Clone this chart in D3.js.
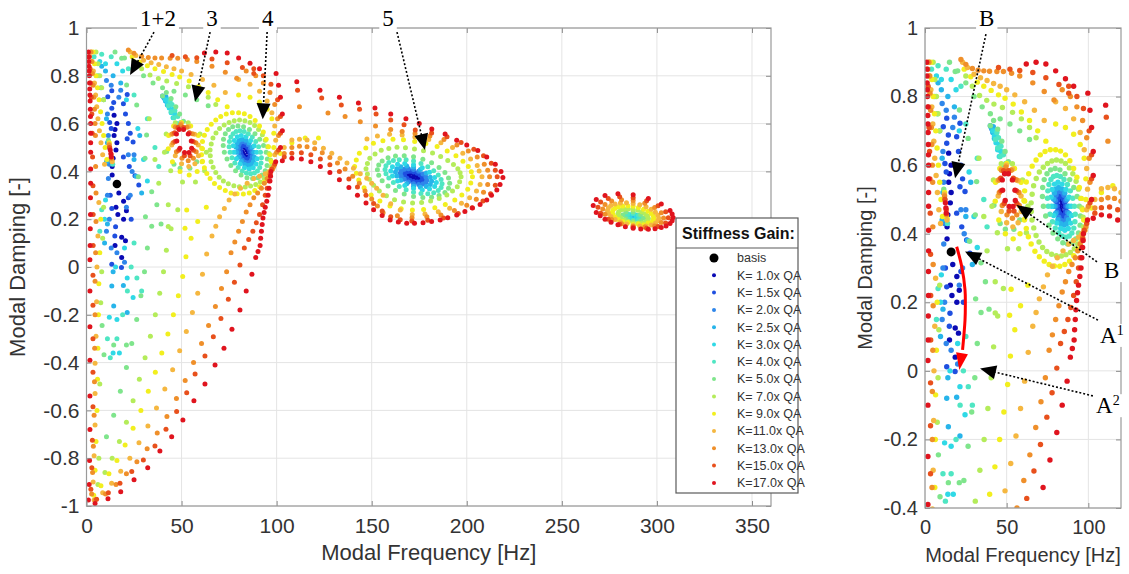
<!DOCTYPE html>
<html>
<head>
<meta charset="utf-8">
<script src="https://cdn.jsdelivr.net/npm/d3@7"></script>
<style>
    body { margin: 0; background: #fff; }
    svg { display: block; font-family: "Liberation Sans", Arial, sans-serif; }
</style>
</head>
<body>
<svg id="drawing_region"></svg>
<script>
// ---- series (legend order) ----
var seriesLabels = ['K= 1.0x QA', 'K= 1.5x QA', 'K= 2.0x QA', 'K= 2.5x QA', 'K= 3.0x QA', 'K= 4.0x QA',
    'K= 5.0x QA', 'K= 7.0x QA', 'K= 9.0x QA', 'K=11.0x QA', 'K=13.0x QA', 'K=15.0x QA', 'K=17.0x QA'];
var seriesColors = ['#0a0ab4', '#1f4fe0', '#2f86ea', '#27b4ea', '#2fd9e6', '#4fe6c3',
    '#7fe58c', '#b4ec5a', '#f2ef1e', '#f5b740', '#ef8f2a', '#e8501c', '#e0141e'];
var basisPoint = [16, 0.347];

// tick labels
var leftXTicks = [0, 50, 100, 150, 200, 250, 300, 350];
var leftYTicks = [-1, -0.8, -0.6, -0.4, -0.2, 0, 0.2, 0.4, 0.6, 0.8, 1];
var rightXTicks = [0, 50, 100];
var rightYTicks = [-0.4, -0.2, 0, 0.2, 0.4, 0.6, 0.8, 1];

// ---- points [frequency Hz, damping], one list per series, grouped by region ----
var lowBand = [
    [[14.5,0.635],[16,0.6],[15,0.575],[14.5,0.55],[16,0.52],[15.5,0.49],[14,0.455],[13.5,0.42],[13.5,0.385],[17,0.31],[19.5,0.275],[15.5,0.25],[16.5,0.22],[21,0.235],[19.5,0.2],[18.5,0.125],[20.5,0.11],[15,0.09],[18.5,0.04]],
    [[13.3,0.737],[11.2,0.712],[14.3,0.688],[13.3,0.664],[21.4,0.722],[19.4,0.683],[20.5,0.64],[22,0.6],[23,0.56],[12.2,0.605],[13,0.58],[21.4,0.537],[24.5,0.523],[12,0.5],[12.5,0.45],[19.4,0.46],[22.5,0.42],[25.5,0.382],[27.5,0.343],[12.5,0.3],[22,0.29],[13.3,0.245],[23.5,0.2],[15.3,0.168],[14.9,0.13],[13.3,0.012],[18.4,-0.002]],
    [[10.5,0.78],[13,0.76],[18,0.74],[17,0.71],[11,0.64],[11.5,0.55],[22,0.47],[25,0.47],[12,0.43],[24,0.4],[11.5,0.37],[11,0.3],[23,0.3],[21,0.25],[12,0.2],[10.5,0.15],[13,0.08],[16,0.06],[20,0.02]],
    [[8,0.84],[10,0.82],[14,0.8],[18,0.77],[9,0.7],[10.5,0.62],[28,0.55],[11,0.52],[25,0.45],[10.5,0.44],[26,0.38],[29,0.31],[11,0.18],[9.5,0.1],[14,-0.02],[19.4,-0.077],[13.3,-0.08],[14.3,-0.163],[21.4,-0.19]],
    [[7,0.86],[10,0.85],[16,0.85],[19,0.82],[7.5,0.75],[21,0.7],[27,0.58],[30,0.45],[32,0.36],[10,0.28],[9.5,0.2],[20,0.08],[15.3,0],[21.4,-0.046],[24.5,-0.128],[12,-0.21],[16,-0.22],[14,-0.36],[17.3,-0.36]],
    [[4,0.88],[8,0.89],[13,0.88],[22,0.83],[6,0.8],[25,0.72],[32,0.62],[36,0.5],[38,0.42],[8,0.24],[7,0.15],[26.5,-0.046],[29,-0.1],[11,-0.3],[13.8,0.43]],
    [[11.5,0.53],[31,0.21],[39.2,0.18],[34.3,0.315],[26.4,0.678],[31.6,0.552],[30.8,0.455],[27.3,0.378],[8.2,-0.245],[14.3,-0.326],[21,-0.326],[9.2,-0.367],[18.5,0.873],[21.1,0.761]],
    [[43,0.26],[43,0.169],[38,0.35],[36,0.45],[33,0.62]],
    [[12,0.52],[13.4,0.445],[52.7,0.238],[51.8,0.162]],
    [[11.8,0.515],[13.5,0.44]],
    [[12,0.51],[13.2,0.455]],
    [[12.2,0.5],[13,0.47]],
    [[12.5,0.49],[12.8,0.475],[13,0.46]]
];

var edgeColumn = [
    [], [], [], [], [], [], [],
    [[5,0.9],[6,0.85],[7,0.8],[8,0.75],[9,0.7],[9,0.25],[8.5,0.12],[8,-0.02],[7.5,-0.15],[7,-0.49],[6.5,-0.8]],
    [[3.5,0.9],[4.2,0.85],[5,0.8],[5.8,0.75],[6.6,0.7],[7.4,0.65],[8.2,0.6],[9,0.55],[9.8,0.5],[10.7,0.45],[7.5,0.2],[7,0.06],[6.5,-0.07],[6.3,-0.2],[6,-0.34],[5.8,-0.47],[5.5,-0.6],[5,-0.73],[4.5,-0.85]],
    [[2.5,0.9],[3,0.86],[3.6,0.82],[4.2,0.77],[4.8,0.72],[5.4,0.67],[6,0.62],[6.8,0.57],[7.6,0.52],[8.5,0.47],[9.5,0.43],[6.5,0.27],[6,0.13],[5.5,0],[5.3,-0.145],[5,-0.29],[4.5,-0.403],[4.5,-0.529],[4.5,-0.661],[4,-0.79],[3.5,-0.9]],
    [[2.3,0.9],[2.7,0.86],[3.1,0.81],[3.5,0.76],[3.9,0.71],[4.2,0.66],[4.5,0.6],[4.7,0.55],[4.8,0.42],[5,0.31],[5,0.19],[4.8,0.06],[4.5,-0.06],[4.5,-0.2],[4.3,-0.34],[4.2,-0.48],[4,-0.62],[3.6,-0.75],[3.2,-0.86],[2.7,-0.95]],
    [[1.6,0.88],[1.9,0.83],[2.2,0.77],[2.5,0.71],[2.8,0.64],[3,0.56],[3.2,0.46],[3.4,0.34],[3.5,0.22],[3.5,0.09],[3.4,-0.035],[3.4,-0.16],[3.4,-0.3],[3.4,-0.44],[3.4,-0.585],[3.1,-0.725],[2.8,-0.84],[2.3,-0.93]],
    [[1,0.9],[1.1,0.88],[1.2,0.86],[1.3,0.84],[1.4,0.82],[1.5,0.8],[1.6,0.77],[1.7,0.745],[1.8,0.72],[1.9,0.695],[2,0.66],[2.1,0.63],[2.2,0.6],[2.2,0.56],[2.2,0.52],[2.2,0.48],[2.2,0.41],[2.2,0.35],[2.1,0.29],[2.1,0.22],[2,0.16],[1.9,0.09],[1.8,0.03],[1.8,-0.1],[1.8,-0.25],[1.8,-0.39],[1.8,-0.54],[1.8,-0.68],[1.6,-0.81],[1.4,-0.91],[1,-0.975]]
];

var topArcs = [
    [], [], [], [], [], [],
    [[15,0.9],[20,0.875],[25,0.84],[30,0.8],[35,0.77],[40,0.75],[46,0.735],[52,0.72],[58,0.7],[64,0.675]],
    [[25,0.86],[29,0.83],[33.4,0.803],[37.8,0.789],[42.2,0.778],[47.4,0.768],[53.6,0.754],[59,0.735],[64,0.71],[68,0.68]],
    [[24,0.88],[28,0.858],[32,0.842],[36,0.83],[40.5,0.818],[45,0.805],[49,0.795],[54,0.778],[59,0.755],[64,0.73],[69,0.7],[74,0.67]],
    [[23,0.9],[26,0.885],[30,0.865],[34,0.855],[38,0.847],[42,0.838],[46,0.83],[50,0.82],[55,0.805],[61,0.785],[67,0.76],[73,0.73]],
    [[22,0.908],[25,0.894],[29,0.882],[32.5,0.877],[36,0.875],[39.5,0.874],[44,0.873],[48,0.873],[53,0.868],[58,0.86],[66,0.84],[73,0.815],[79,0.79]],
    [[45,0.885],[52,0.88],[58,0.876],[66,0.87],[74,0.855],[82,0.835],[88,0.81]],
    [[62,0.895],[68,0.9],[74,0.895],[80,0.875],[86,0.852],[91,0.83]]
];

var mode3 = [
    [], [],
    [[40,0.715],[41,0.705]],
    [[40.5,0.71],[41.5,0.695],[42.5,0.678],[41.8,0.712],[43.3,0.69]],
    [[41.5,0.7],[42.5,0.685],[43.5,0.665],[44.5,0.645],[45.5,0.625],[43,0.7],[44.2,0.68],[45.5,0.66],[46.5,0.64]],
    [[44,0.695],[43,0.675],[44.5,0.65],[46,0.625],[47.5,0.6],[49,0.58],[45,0.68],[46.5,0.655],[48,0.63],[49.5,0.605]],
    [[40,0.715],[42,0.73],[44.5,0.705],[47,0.67],[49,0.64],[51,0.61],[42.2,0.483],[46,0.43],[49.2,0.413],[54.4,0.413],[58,0.44]],
    [[63,0.48],[59.7,0.557],[53.5,0.604],[46.7,0.604],[41.9,0.557],[41,0.48],[44.3,0.403],[50.5,0.356],[57.3,0.356],[62.1,0.403]],
    [[61,0.495],[58.8,0.55],[54.8,0.59],[50,0.605],[45.8,0.59],[43.2,0.55],[43,0.495],[45.2,0.44],[49.2,0.4],[54,0.385],[58.2,0.4],[60.8,0.44]],
    [[58.8,0.51],[56.9,0.555],[53.6,0.588],[49.8,0.6],[46.6,0.588],[44.7,0.555],[44.8,0.51],[46.7,0.465],[50,0.432],[53.8,0.42],[57,0.432],[58.9,0.465]],
    [[57.5,0.52],[55.7,0.5575],[52.8,0.585],[49.5,0.595],[46.8,0.585],[45.3,0.5575],[45.5,0.52],[47.3,0.4825],[50.2,0.455],[53.5,0.445],[56.2,0.455],[57.7,0.4825]],
    [[56.1,0.525],[54.1,0.562],[51.1,0.584],[48.1,0.584],[46.35,0.562],[46.5,0.525],[48.5,0.488],[51.5,0.466],[54.5,0.466],[56.25,0.488]],
    [[55.1,0.527],[53.5,0.557],[51.05,0.575],[48.7,0.575],[47.3,0.557],[47.5,0.527],[49.1,0.497],[51.55,0.4795],[53.9,0.4795],[55.3,0.497]]
];

var mode4 = [
    [[85,0.48],[83,0.5],[82,0.48],[84,0.46],[84.3,0.49],[82.7,0.47]],
    [[86,0.48],[84.65,0.501],[82.6,0.51],[81.1,0.501],[81,0.48],[82.35,0.459],[84.4,0.45],[85.9,0.459],
     [85.5,0.4915],[83.65,0.5077],[81.7,0.5077],[80.85,0.4915],[81.5,0.4685],[83.35,0.4523],[85.3,0.4523],[86.15,0.4685]],
    [[87,0.48],[85.1,0.512],[82.3,0.525],[80.2,0.512],[80,0.48],[81.9,0.448],[84.7,0.435],[86.8,0.448],
     [86.3,0.4972],[83.7,0.5216],[81,0.5216],[79.8,0.4972],[80.7,0.4628],[83.3,0.4384],[86,0.4384],[87.2,0.4628]],
    [[88,0.48],[85.6,0.519],[81.9,0.535],[79.2,0.519],[79,0.48],[81.4,0.441],[85.1,0.425],[87.8,0.441],
     [87.1,0.501],[83.8,0.5308],[80.3,0.5308],[78.7,0.501],[79.9,0.459],[83.2,0.4292],[86.7,0.4292],[88.3,0.459]],
    [[89.5,0.48],[86.3,0.529],[81.4,0.55],[77.8,0.529],[77.5,0.48],[80.7,0.431],[85.6,0.41],[89.2,0.431],
     [88.2,0.5068],[83.9,0.5447],[79.3,0.5447],[77.2,0.5068],[78.8,0.4532],[83.1,0.4153],[87.7,0.4153],[89.8,0.4532]],
    [[91.5,0.48],[89,0.525],[85.1,0.558],[80.7,0.57],[77.1,0.558],[75.2,0.525],[75.5,0.48],[78,0.435],[81.9,0.402],[86.3,0.39],[89.9,0.402],[91.8,0.435],
     [90.5,0.5033],[87.2,0.5436],[82.9,0.5669],[78.7,0.5669],[75.9,0.5436],[75,0.5033],[76.5,0.4567],[79.8,0.4164],[84.1,0.3931],[88.3,0.3931],[91.1,0.4164],[92,0.4567]],
    [[94.5,0.48],[91.1,0.535],[85.7,0.575],[79.65,0.59],[74.7,0.575],[72.05,0.535],[72.5,0.48],[75.9,0.425],[81.3,0.385],[87.35,0.37],[92.3,0.385],[94.95,0.425],
     [93.1,0.5085],[88.6,0.5578],[82.6,0.5863],[76.9,0.5863],[73,0.5578],[71.9,0.5085],[73.9,0.4515],[78.4,0.4022],[84.4,0.3737],[90.1,0.3737],[94,0.4022],[95.1,0.4515]],
    [[97,0.42],[96,0.475],[94,0.53],[90.5,0.575],[86,0.605],[80.5,0.615],[75,0.605],[70,0.58],[66.5,0.54],[65,0.49],[65.5,0.44],[68,0.395],[72,0.36],[77.5,0.34],[83.5,0.335],[89,0.345],[93.5,0.37],
     [96.8,0.448],[95.2,0.503],[92.5,0.553],[88.4,0.592],[83.3,0.612],[77.7,0.612],[72.4,0.594],[68.1,0.561],[65.6,0.515],[65.1,0.465],[66.6,0.417],[69.8,0.376],[74.6,0.348],[80.4,0.336],[86.3,0.339],[91.4,0.356],[95.5,0.395]],
    [[97.5,0.41],[96.5,0.47],[94.5,0.535],[91,0.59],[86,0.63],[80,0.645],[73.5,0.64],[68,0.615],[63.5,0.575],[61,0.525],[60.5,0.47],[62,0.415],[65,0.37],[70,0.333],[76,0.31],[82.5,0.305],[88.5,0.32],[93.5,0.355],
     [97.2,0.44],[95.7,0.503],[93,0.565],[88.7,0.613],[83,0.641],[76.7,0.645],[70.6,0.63],[65.6,0.597],[62,0.551],[60.6,0.497],[61,0.442],[63.3,0.391],[67.3,0.349],[73,0.32],[79.2,0.306],[85.6,0.31],[91.1,0.336],[95.6,0.382],
     [98.5,0.5],[98.5,0.56],[97.5,0.62],[95,0.66],[91,0.69],[86,0.71],[80,0.72],[102,0.475],[108,0.52],[115,0.54],[122,0.54]],
    [[98,0.41],[99,0.47],[99.5,0.53],[99,0.59],[97.5,0.645],[95,0.695],[91,0.735],[86,0.765],[80,0.785],[94,0.39],[88,0.37],[81,0.33],[75,0.28],[70,0.21],[66,0.13],
     [96,0.4],[91,0.38],[84.5,0.35],[78,0.305],[72.5,0.245],[68,0.17]],
    [[98.5,0.42],[100,0.48],[101,0.55],[100.5,0.62],[99,0.68],[96.5,0.73],[93,0.77],[89,0.8],[84,0.82],[95,0.37],[92,0.33],[88,0.29],[84,0.23],[80,0.15],[76,0.06],
     [96.5,0.39],[93.5,0.35],[90,0.31],[86,0.26],[82,0.19],[78,0.105]],
    [[97.5,0.41],[99,0.43],[101,0.49],[102,0.56],[102,0.63],[100.5,0.7],[97,0.765],[93,0.8],[88,0.83],[96,0.36],[94,0.3],[91,0.22],[87.5,0.15],[83,0.08],
     [96.6,0.385],[95,0.33],[92.6,0.26],[89.3,0.185],[85.3,0.115]],
    [[97,0.4],[99.5,0.44],[102,0.5],[103,0.57],[103,0.64],[102,0.71],[101,0.76],[99.7,0.81],[96.5,0.36],[95.5,0.3],[94,0.25],[92.8,0.205],[92,0.15],[91.3,0.09],
     [96.8,0.38],[96,0.33],[94.8,0.275],[93.4,0.228],[92.4,0.178],[91.6,0.12],[90.2,0.065]]
];

var fanDown = [
    [], [], [], [], [],
    [[25,0.1],[23.5,0],[21.5,-0.1],[19,-0.2],[16,-0.3],[12.5,-0.38]],
    [[34.3,0.17],[37,0.26],[32,0.08],[30.5,-0.02],[28.6,-0.12],[26.4,-0.22],[23.8,-0.32],[21,-0.42],[17.8,-0.52],[14.3,-0.62],[10.5,-0.71]],
    [[44.5,0.16],[48,0.24],[42,0.07],[40.5,-0.02],[38.5,-0.11],[36.2,-0.2],[33.6,-0.29],[30.8,-0.38],[27.8,-0.47],[24.5,-0.56],[21,-0.65],[17.3,-0.73],[13.5,-0.8],[9.7,-0.86],[6,-0.91]],
    [[55,0.12],[58.5,0.19],[63,0.25],[52.3,0.043],[50.6,-0.04],[48.3,-0.12],[45.7,-0.2],[42.8,-0.28],[39.6,-0.36],[36.2,-0.44],[32.5,-0.52],[28.6,-0.6],[24.5,-0.675],[20.3,-0.745],[16,-0.81],[11.8,-0.865],[7.6,-0.915],[3.8,-0.955]],
    [[63.2,0.054],[61,-0.03],[58.5,-0.11],[55.7,-0.19],[52.5,-0.27],[49,-0.35],[45.3,-0.43],[41.2,-0.51],[36.8,-0.59],[32.3,-0.665],[27.6,-0.735],[22.8,-0.8],[18,-0.855],[13.2,-0.905],[8.5,-0.945],[4,-0.975]],
    [[73.7,-0.02],[71,-0.09],[67.8,-0.165],[64.2,-0.245],[60.5,-0.32],[56.3,-0.4],[51.9,-0.475],[47.3,-0.55],[42.3,-0.625],[37.2,-0.695],[31.9,-0.76],[26.5,-0.815],[21,-0.865],[15.5,-0.91],[10,-0.95],[4.6,-0.975]],
    [[80.7,0.008],[77.8,-0.064],[74.6,-0.135],[70.7,-0.215],[66.7,-0.292],[62.3,-0.372],[57.1,-0.448],[52.7,-0.526],[47.4,-0.605],[41.8,-0.679],[36,-0.749],[29.9,-0.808],[23.8,-0.856],[17.6,-0.905],[11.5,-0.945],[5.3,-0.972]],
    [[89,0.04],[87,-0.03],[84,-0.1],[80.7,-0.18],[76.5,-0.26],[72.3,-0.34],[67.6,-0.41],[62.3,-0.49],[56.5,-0.56],[50.7,-0.64],[44.8,-0.71],[38.6,-0.77],[32.2,-0.84],[25,-0.89],[18,-0.94],[11.3,-0.97],[4.5,-0.99]]
];

var mode5 = [
    [[175,0.372],[172,0.39],[169,0.384],[172,0.366],[174.1,0.382],[169.9,0.391],[169.9,0.374],[174.1,0.366],[172,0.378]],
    [[177,0.368],[175.5,0.385],[172,0.398],[168.5,0.399],[167,0.388],[168.5,0.371],[172,0.358],[175.5,0.357],
     [176.6,0.3765],[173.9,0.3927],[170.1,0.4003],[167.4,0.3949],[167.4,0.3795],[170.1,0.3633],[173.9,0.3557],[176.6,0.3611]],
    [[179,0.364],[176.9,0.389],[172,0.408],[167.1,0.409],[165,0.392],[167.1,0.367],[172,0.348],[176.9,0.347],
     [178.5,0.3766],[174.7,0.4003],[169.3,0.4111],[165.5,0.4024],[165.5,0.3794],[169.3,0.3557],[174.7,0.3449],[178.5,0.3536]],
    [[181.5,0.359],[178.7,0.393],[172,0.418],[165.3,0.419],[162.5,0.397],[165.3,0.363],[172,0.338],[178.7,0.337],
     [180.8,0.3757],[175.6,0.4077],[168.4,0.4223],[163.2,0.4109],[163.2,0.3803],[168.4,0.3483],[175.6,0.3337],[180.8,0.3451]],
    [[184,0.354],[180.4,0.396],[172,0.428],[163.6,0.43],[160,0.402],[163.6,0.36],[172,0.328],[180.4,0.326],
     [183.1,0.375],[176.6,0.415],[167.4,0.4334],[160.9,0.4194],[160.9,0.381],[167.4,0.341],[176.6,0.3226],[183.1,0.3366]],
    [[187,0.348],[185,0.385],[179.5,0.419],[172,0.443],[164.5,0.449],[159,0.437],[157,0.408],[159,0.372],[164.5,0.337],[172,0.313],[179.5,0.307],[185,0.32],
     [186.5,0.3658],[182.6,0.4028],[175.9,0.433],[168.1,0.4486],[161.4,0.4452],[157.5,0.4238],[157.5,0.3902],[161.4,0.3532],[168.1,0.323],[175.9,0.3074],[182.6,0.3108],[186.5,0.3322]],
    [[191,0.35],[188.5,0.395],[181.5,0.436],[172,0.461],[162.5,0.464],[155.5,0.444],[153,0.407],[155.5,0.361],[162.5,0.32],[172,0.295],[181.5,0.292],[188.5,0.312],
     [190.4,0.372],[185.4,0.4166],[176.9,0.4508],[167.1,0.4656],[158.6,0.4568],[153.7,0.427],[153.7,0.384],[158.6,0.3394],[167.1,0.3052],[176.9,0.2904],[185.4,0.2992],[190.4,0.329]],
    [[197,0.378],[195.3,0.411],[190,0.446],[182,0.477],[172.5,0.494],[163.3,0.501],[155,0.488],[149,0.455],[147,0.411],[148.8,0.367],[154,0.318],[162,0.281],[171.5,0.268],[181,0.276],[189.5,0.301],[195,0.336],
     [196.5,0.3945],[193,0.4286],[186.25,0.4627],[177.25,0.4869],[167.75,0.499],[159,0.4957],[151.75,0.4726],[147.75,0.433],[147.75,0.389],[151,0.3417],[157.75,0.2977],[166.75,0.2724],[176.25,0.2702],[185.5,0.2867],[192.5,0.3175],[196.25,0.3571]],
    [[203,0.378],[200.8,0.42],[194.3,0.465],[184.4,0.504],[172.6,0.525],[161.2,0.535],[150.9,0.518],[143.5,0.476],[141,0.42],[143.2,0.364],[149.7,0.301],[159.6,0.255],[171.4,0.238],[183.2,0.248],[193.7,0.28],[200.5,0.325],
     [202.4,0.399],[198,0.4424],[189.7,0.4858],[178.5,0.5166],[166.7,0.532],[155.9,0.5278],[146.9,0.4984],[141.9,0.448],[141.9,0.392],[146,0.3318],[154.3,0.2758],[165.5,0.2436],[177.3,0.2408],[188.7,0.2618],[197.4,0.301],[202.1,0.3514]],
    [[208,0.378],[205.5,0.425],[197.9,0.476],[186.4,0.52],[172.7,0.544],[159.4,0.555],[147.5,0.536],[156,0.3],[160,0.265],[165,0.238],[171.3,0.22],[178,0.222],[185,0.231],[191,0.246],[197.2,0.267],[201.5,0.29],[205.1,0.318],[207,0.345],
     [206.5,0.402],[202,0.452],[192.5,0.5],[180,0.533],[166,0.552],[153,0.548],
     [104,0.5],[108,0.531],[112,0.535],[116,0.531],[120,0.52],[124.6,0.497],[129,0.476],[133.3,0.455],[137,0.435],[140.4,0.413],[144,0.39],[147.4,0.371],[150,0.35],[152.6,0.329]],
    [[212,0.378],[209.2,0.43],[200.8,0.485],[188,0.533],[172.8,0.559],[160,0.575],[152,0.59],[144,0.608],[136,0.63],[127,0.644],[112,0.67],[156,0.227],[163.5,0.214],[171.2,0.206],[179,0.21],[186.4,0.218],[193.5,0.236],[200,0.258],[205,0.283],[208.8,0.313],[211,0.345],
     [211,0.405],[205.5,0.46],[194.8,0.51],[180.6,0.548],[166,0.567],
     [104,0.475],[108,0.5],[112,0.505],[116,0.503],[120,0.495],[124,0.478],[128,0.458],[132,0.435],[136,0.41],[140,0.38],[143.5,0.35],[146.5,0.318],[150,0.285],[153,0.255]],
    [[216,0.378],[212.9,0.434],[203.7,0.493],[189.6,0.545],[172.9,0.573],[167,0.595],[160,0.615],[152.3,0.64],[143.6,0.66],[134,0.678],[123.7,0.707],[111,0.74],[160,0.21],[165,0.198],[171.1,0.192],[179.5,0.196],[187.8,0.205],[195.5,0.224],[202.8,0.248],[208.5,0.276],[212.5,0.307],[215,0.342],
     [215,0.405],[208.8,0.465],[197,0.521],[181.5,0.561],
     [104,0.46],[108,0.476],[113,0.478],[118,0.47],[123,0.452],[128,0.428],[133,0.4],[138,0.368],[142.5,0.335],[147,0.3],[151,0.266],[155.5,0.234]],
    [[110.6,0.775],[122.8,0.74],[133,0.71],[143,0.686],[151.7,0.665],[160,0.64],[168,0.62],[175,0.6],[181.6,0.577],[188.6,0.556],[194.7,0.53],[200,0.51],[205.8,0.487],[210.5,0.46],[215,0.43],[218,0.4],[219,0.375],[217.5,0.345],[215.8,0.322],[213,0.3],[210.5,0.28],[207,0.262],[203,0.247],[199,0.232],[194.7,0.218],[190,0.206],[186,0.197],[181.5,0.19],[177,0.185],[172.5,0.183],[168.4,0.183],[164,0.188],[159.7,0.197],[103,0.445],[108,0.455],[113,0.452],[118,0.44],[123,0.42],[128,0.395],[133,0.365],[138,0.333],[142.5,0.3],[147,0.268],[151,0.24],[155.5,0.215]]
];

var mode6 = [
    [[287.8,0.21]],
    [[288.3,0.21],[287,0.212]],
    [[288.8,0.21],[287.5,0.215],[286.2,0.211],[287.5,0.205]],
    [[289.5,0.208],[287.5,0.217],[285.5,0.212],[287.5,0.203]],
    [[290.3,0.207],[288.9,0.218],[286.1,0.219],[284.7,0.213],[286.1,0.202],[288.9,0.201]],
    [[291.5,0.205],[290.3,0.217],[287.5,0.224],[284.7,0.222],[283.5,0.215],[284.7,0.203],[287.5,0.196],[290.3,0.198]],
    [[293,0.204],[291.4,0.22],[287.5,0.231],[283.6,0.23],[282,0.218],[283.6,0.202],[287.5,0.191],[291.4,0.192]],
    [[295.5,0.203],[294,0.221],[290,0.237],[285,0.243],[281,0.238],[279.5,0.223],[281,0.205],[285,0.19],[290,0.183],[294,0.188],
     [295.1,0.2121],[292.2,0.2298],[287.5,0.241],[282.8,0.2415],[279.9,0.2312],[279.9,0.2139],[282.8,0.1962],[287.5,0.185],[292.2,0.1845],[295.1,0.1948]],
    [[298.5,0.203],[297,0.224],[293,0.242],[287.5,0.254],[282,0.255],[278,0.246],[276.5,0.229],[278,0.208],[282,0.19],[287.5,0.178],[293,0.177],[297,0.186],
     [298.1,0.2133],[295.3,0.2337],[290.3,0.2493],[284.7,0.2561],[279.7,0.2521],[276.9,0.2384],[276.9,0.2188],[279.7,0.1984],[284.7,0.1866],[290.3,0.1799],[295.3,0.1839],[298.1,0.1976]],
    [[301,0.204],[299.2,0.229],[294.3,0.252],[287.5,0.266],[280.8,0.268],[275.8,0.257],[274,0.236],[275.8,0.211],[280.8,0.188],[287.5,0.174],[294.3,0.172],[299.2,0.183],
     [300.5,0.2165],[297,0.2412],[291,0.2603],[284,0.2686],[278,0.2638],[274.5,0.2474],[274.5,0.2236],[278,0.1988],[284,0.1798],[291,0.1714],[297,0.1762],[300.5,0.1926]],
    [[303.5,0.205],[302.3,0.227],[298.8,0.249],[293.6,0.267],[287.5,0.278],[281.4,0.281],[276.2,0.276],[272.7,0.262],[271.5,0.243],[272.7,0.221],[276.2,0.199],[281.4,0.181],[287.5,0.17],[293.6,0.167],[298.8,0.172],[302.3,0.186]],
    [[306,0.206],[304.6,0.231],[300.6,0.256],[294.6,0.277],[287.5,0.29],[280.4,0.294],[274.4,0.287],[270.4,0.272],[269,0.25],[270.4,0.225],[274.4,0.2],[280.4,0.179],[287.5,0.166],[294.6,0.162],[300.6,0.169],[304.6,0.184]],
    [[308.5,0.207],[306.9,0.236],[302.3,0.264],[295.5,0.287],[287.5,0.302],[279.5,0.306],[272.7,0.299],[268.1,0.282],[266.5,0.257],[268.1,0.228],[272.7,0.2],[279.5,0.177],[287.5,0.162],[295.5,0.158],[302.3,0.165],[306.9,0.182],[270.2,0.214],[275.9,0.187],[283.4,0.168],[291.5,0.159],[299,0.16],[304.8,0.172],[308,0.194],[308,0.222]]
];

// annotations: label position, start of dotted leader, arrow tip (data units of each panel)
var leftNotes = [
    {text: '1+2', sup: '', at: [37.6, 1.042], from: [35.5, 0.983], tip: [22.9, 0.803]},
    {text: '3', sup: '', at: [66, 1.042], from: [65, 0.983], tip: [57.1, 0.692]},
    {text: '4', sup: '', at: [95.3, 1.042], from: [95, 0.983], tip: [92.7, 0.618]},
    {text: '5', sup: '', at: [158.6, 1.042], from: [163.3, 0.983], tip: [178, 0.49]}
];
var rightNotes = [
    {text: 'B', sup: '', at: [37.8, 1.029], from: [37.3, 0.982], tip: [18.4, 0.562]},
    {text: 'B', sup: '', at: [114.3, 0.294], from: [105.3, 0.318], tip: [56.1, 0.484]},
    {text: 'A', sup: '1', at: [114.4, 0.105], from: [105.9, 0.148], tip: [24.5, 0.348]},
    {text: 'A', sup: '2', at: [112, -0.1], from: [102.8, -0.073], tip: [33.7, 0.007]}
];
var redPath = [[19.4, 0.362], [22.5, 0.304], [24.5, 0.236], [24.7, 0.19], [24.5, 0.148], [23, 0.061], [21, 0.008]];

var allSeries = seriesLabels.map(function (label, i) {
    return {
        label: label,
        color: seriesColors[i],
        points: [].concat(lowBand[i], edgeColumn[i], topArcs[i], mode3[i], mode4[i], fanDown[i], mode5[i], mode6[i])
    };
});


class LocusPanel {
    constructor(svg, cfg) {
        this.svg = svg;
        this.cfg = cfg;
        this.chart = svg.append('g');
    }

    initializeScales() {
        this.xscale = d3.scaleLinear().domain(this.cfg.xDomain).range([this.cfg.left, this.cfg.right]);
        this.yscale = d3.scaleLinear().domain(this.cfg.yDomain).range([this.cfg.bottom, this.cfg.top]);
    }

    drawGrid() {
        const c = this.cfg;
        const grid = this.chart.append('g').attr('stroke', '#e4e4e4').attr('stroke-width', 1);
        grid.selectAll('line.gx').data(c.xTicks).enter().append('line')
            .attr('x1', d => this.xscale(d)).attr('x2', d => this.xscale(d))
            .attr('y1', c.top).attr('y2', c.bottom);
        grid.selectAll('line.gy').data(c.yTicks).enter().append('line')
            .attr('x1', c.left).attr('x2', c.right)
            .attr('y1', d => this.yscale(d)).attr('y2', d => this.yscale(d));
    }

    drawPoints(series) {
        const c = this.cfg;
        this.svg.append('clipPath').attr('id', c.id + '-clip')
            .append('rect')
            .attr('x', c.left).attr('y', c.top)
            .attr('width', c.right - c.left).attr('height', c.bottom - c.top);
        const pts = this.chart.append('g').attr('clip-path', 'url(#' + c.id + '-clip)');
        series.forEach(s => {
            pts.append('g').selectAll('circle').data(s.points).enter()
                .append('circle')
                .attr('cx', d => this.xscale(d[0]))
                .attr('cy', d => this.yscale(d[1]))
                .attr('r', c.r)
                .attr('fill', s.color);
        });
        pts.append('circle')
            .attr('cx', this.xscale(basisPoint[0]))
            .attr('cy', this.yscale(basisPoint[1]))
            .attr('r', c.r + 1.8)
            .attr('fill', '#000');
    }

    drawAxes() {
        const c = this.cfg;
        const style = (g, size) => {
            g.select('.domain').remove();
            g.selectAll('line').attr('stroke', '#8c8c8c');
            g.selectAll('text').attr('fill', '#333').style('font-size', size + 'px')
                .style('font-family', '"Liberation Sans", Arial, sans-serif');
        };
        const fmt = d => String(d);

        this.chart.append('g')
            .attr('transform', `translate(0, ${c.bottom})`)
            .call(d3.axisBottom(this.xscale).tickValues(c.xTicks).tickFormat(fmt).tickSize(-5).tickPadding(12))
            .call(g => style(g, c.tickFont));
        this.chart.append('g')
            .attr('transform', `translate(${c.left}, 0)`)
            .call(d3.axisLeft(this.yscale).tickValues(c.yTicks).tickFormat(fmt).tickSize(-5).tickPadding(7))
            .call(g => style(g, c.tickFont));
        this.chart.append('g')
            .attr('transform', `translate(0, ${c.top})`)
            .call(d3.axisTop(this.xscale).tickValues(c.xTicks).tickFormat('').tickSize(-5))
            .call(g => style(g, c.tickFont));
        this.chart.append('g')
            .attr('transform', `translate(${c.right}, 0)`)
            .call(d3.axisRight(this.yscale).tickValues(c.yTicks).tickFormat('').tickSize(-5))
            .call(g => style(g, c.tickFont));

        this.chart.append('rect')
            .attr('x', c.left).attr('y', c.top)
            .attr('width', c.right - c.left).attr('height', c.bottom - c.top)
            .attr('fill', 'none').attr('stroke', '#9a9a9a').attr('stroke-width', 1.2);

        this.chart.append('text')
            .attr('x', (c.left + c.right) / 2).attr('y', c.xLabelY)
            .attr('text-anchor', 'middle').attr('fill', '#333')
            .style('font-size', c.labelFont + 'px')
            .text('Modal Frequency [Hz]');
        this.chart.append('text')
            .attr('transform', `translate(${c.yLabelX}, ${c.yLabelY}) rotate(-90)`)
            .attr('text-anchor', 'middle').attr('fill', '#333')
            .style('font-size', c.labelFont + 'px')
            .text('Modal Damping [-]');
    }

    drawArrowHead(g, x1, y1, x2, y2, len, half, color) {
        const a = Math.atan2(y2 - y1, x2 - x1);
        const bx = x2 - len * Math.cos(a), by = y2 - len * Math.sin(a);
        const px = -Math.sin(a) * half, py = Math.cos(a) * half;
        g.append('path')
            .attr('d', `M${x2},${y2}L${bx + px},${by + py}L${bx - px},${by - py}Z`)
            .attr('fill', color);
    }

    drawNotes(notes) {
        const g = this.chart.append('g');
        notes.forEach(n => {
            const x1 = this.xscale(n.from[0]), y1 = this.yscale(n.from[1]);
            const x2 = this.xscale(n.tip[0]), y2 = this.yscale(n.tip[1]);
            const a = Math.atan2(y2 - y1, x2 - x1);
            g.append('line')
                .attr('x1', x1).attr('y1', y1)
                .attr('x2', x2 - 12 * Math.cos(a)).attr('y2', y2 - 12 * Math.sin(a))
                .attr('stroke', '#000').attr('stroke-width', 1.6)
                .attr('stroke-dasharray', '2,2');
            this.drawArrowHead(g, x1, y1, x2, y2, 16, 7, '#000');
        });
        notes.forEach(n => {
            const lab = g.append('g');
            const t = lab.append('text')
                .attr('x', this.xscale(n.at[0])).attr('y', this.yscale(n.at[1]))
                .attr('dy', '0.35em')
                .attr('text-anchor', 'middle')
                .style('font-family', '"Liberation Serif", "Times New Roman", serif')
                .style('font-size', '23px')
                .attr('fill', '#000')
                .text(n.text);
            if (n.sup) {
                t.append('tspan').attr('dy', '-0.55em').style('font-size', '14px').text(n.sup);
            }
            const bb = t.node().getBBox();
            lab.insert('rect', 'text')
                .attr('x', bb.x - 3).attr('y', bb.y + 1)
                .attr('width', bb.width + 6).attr('height', bb.height - 2)
                .attr('fill', '#fff');
        });
    }

    drawRedArrow(path) {
        const line = d3.line().curve(d3.curveCatmullRom)
            .x(d => this.xscale(d[0])).y(d => this.yscale(d[1]));
        const pts = path.slice(0, path.length - 1);
        this.chart.append('path')
            .attr('d', line(pts))
            .attr('fill', 'none').attr('stroke', '#f00').attr('stroke-width', 3);
        const p1 = path[path.length - 2], p2 = path[path.length - 1];
        this.drawArrowHead(this.chart,
            this.xscale(p1[0]), this.yscale(p1[1]),
            this.xscale(p2[0]), this.yscale(p2[1]) + 2, 17, 6, '#f00');
    }

    drawLegend(series) {
        const lg = this.chart.append('g');
        const x0 = 676, y0 = 218, w = 122, h = 275;
        lg.append('rect').attr('x', x0).attr('y', y0).attr('width', w).attr('height', h)
            .attr('fill', '#fff').attr('stroke', '#5a5a5a').attr('stroke-width', 1.2);
        lg.append('line').attr('x1', x0).attr('x2', x0 + w).attr('y1', y0 + 30).attr('y2', y0 + 30)
            .attr('stroke', '#5a5a5a').attr('stroke-width', 1.2);
        lg.append('text').attr('x', x0 + 6).attr('y', y0 + 21)
            .style('font-weight', 'bold').style('font-size', '16px').attr('fill', '#111')
            .text('Stiffness Gain:');
        const items = [{label: 'basis', color: '#000', r: 4.5}].concat(
            series.map(s => ({label: s.label, color: s.color, r: 2})));
        const rows = lg.selectAll('g.item').data(items).enter().append('g')
            .attr('transform', (d, i) => `translate(0, ${y0 + 40 + i * 17.3})`);
        rows.append('circle').attr('cx', x0 + 38).attr('cy', 0).attr('r', d => d.r).attr('fill', d => d.color);
        rows.append('text').attr('x', x0 + 61).attr('y', 0).attr('dy', '0.35em')
            .style('font-size', '12.5px').attr('fill', '#333')
            .style('white-space', 'pre')
            .text(d => d.label);
    }
}


var svg = d3.select('#drawing_region').attr('width', 1129).attr('height', 574);

var leftPanel = new LocusPanel(svg, {
    id: 'left', left: 86.5, right: 771, top: 28, bottom: 506,
    xDomain: [0, 360], yDomain: [-1, 1], xTicks: leftXTicks, yTicks: leftYTicks,
    r: 2.5, tickFont: 21, labelFont: 22, xLabelY: 560, yLabelX: 25, yLabelY: 267
});
leftPanel.initializeScales();
leftPanel.drawGrid();
leftPanel.drawPoints(allSeries);
leftPanel.drawAxes();
leftPanel.drawLegend(allSeries);
leftPanel.drawNotes(leftNotes);

var rightPanel = new LocusPanel(svg, {
    id: 'right', left: 925, right: 1121, top: 28, bottom: 508,
    xDomain: [0, 120], yDomain: [-0.4, 1], xTicks: rightXTicks, yTicks: rightYTicks,
    r: 2.7, tickFont: 20, labelFont: 20, xLabelY: 562, yLabelX: 872, yLabelY: 268
});
rightPanel.initializeScales();
rightPanel.drawGrid();
rightPanel.drawPoints(allSeries);
rightPanel.drawAxes();
rightPanel.drawRedArrow(redPath);
rightPanel.drawNotes(rightNotes);
</script>
</body>
</html>
